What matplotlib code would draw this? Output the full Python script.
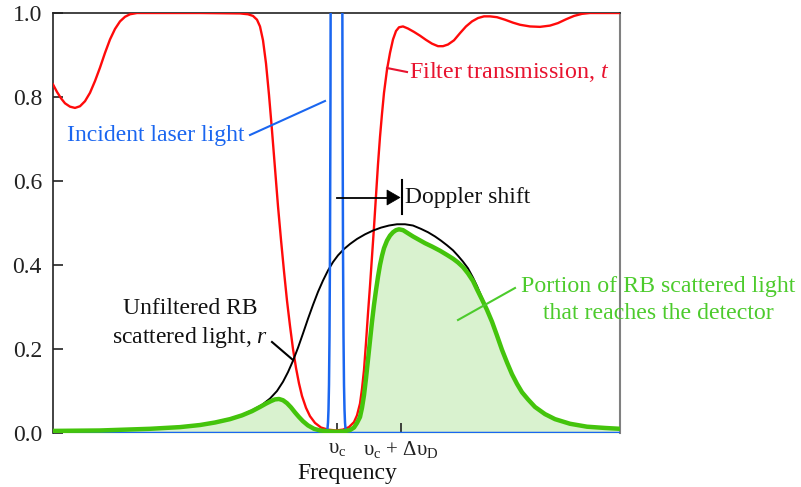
import matplotlib
matplotlib.use("Agg")
import matplotlib.pyplot as plt
from matplotlib.patches import Polygon
from matplotlib.lines import Line2D

plt.rcParams['font.family'] = ['Liberation Serif', 'DejaVu Serif']
plt.rcParams['mathtext.fontset'] = 'custom'
plt.rcParams['mathtext.rm'] = 'Liberation Serif'
plt.rcParams['mathtext.it'] = 'Liberation Serif:italic'

# ---- data: frequency offset from nu_c (arbitrary units; Doppler shift = 64) ----
doppler_shift = 64
filter_x = [-284, -280, -276, -272, -267, -262, -257, -252, -247, -242, -237, -232, -227, -222,
            -217, -212, -207, -200, -137, -97, -89, -84, -80, -77, -74, -71, -68, -65, -62, -59,
            -56, -53, -50, -47, -44, -41, -38, -35, -31, -27, -22, -16, -9, -1, 6, 12, 17, 20,
            23, 25, 27, 29, 31, 33, 35, 37, 39, 41, 43, 45, 47, 50, 53, 56, 59, 62, 66, 71, 77,
            83, 89, 95, 101, 106, 111, 117, 123, 129, 135, 141, 147, 153, 160, 168, 176, 183,
            193, 203, 213, 221, 229, 237, 245, 253, 283]
filter_t = [0.830, 0.812, 0.797, 0.785, 0.777, 0.774, 0.778, 0.790, 0.810, 0.838, 0.870, 0.905,
            0.937, 0.962, 0.980, 0.991, 0.997, 1.0, 1.0, 0.999, 0.997, 0.993, 0.984, 0.968,
            0.935, 0.88, 0.805, 0.72, 0.63, 0.54, 0.46, 0.385, 0.315, 0.255, 0.2, 0.155, 0.118,
            0.088, 0.06, 0.04, 0.024, 0.013, 0.008, 0.006, 0.008, 0.014, 0.026, 0.042, 0.07,
            0.105, 0.15, 0.215, 0.285, 0.35, 0.42, 0.49, 0.565, 0.64, 0.705, 0.76, 0.81, 0.865,
            0.905, 0.937, 0.957, 0.966, 0.968, 0.963, 0.955, 0.946, 0.936, 0.927, 0.921, 0.921,
            0.925, 0.935, 0.952, 0.968, 0.98, 0.988, 0.992, 0.992, 0.99, 0.984, 0.977, 0.972,
            0.968, 0.967, 0.970, 0.976, 0.985, 0.993, 0.998, 1.0, 1.0]

laser_x = [-284, -12.5, -10.5, -9.5, -9.0, -8.5, -8.0, -7.5, -7.0, -6.5, -6.0, -0.5,
           5.0, 5.5, 6.0, 6.5, 7.0, 7.5, 8.0, 8.5, 9.5, 11.5, 283]
laser_y = [0.0, 0.0, 0.002, 0.011, 0.025, 0.056, 0.115, 0.23, 0.44, 0.82, 1.5,
           25.0, 1.5, 0.82, 0.44, 0.23, 0.115, 0.056, 0.025, 0.011, 0.002, 0.0, 0.0]

rb_x = [-284, -237, -187, -157, -137, -122, -107, -95, -85, -75, -67, -60, -54, -49, -44, -39,
        -34, -29, -24, -19, -14, -9, -4, 1, 7, 13, 20, 28, 36, 44, 52, 60, 68, 76, 84, 91, 98,
        104, 110, 116, 121, 126, 131, 136, 140, 145, 150, 155, 160, 165, 170, 175, 180, 185,
        191, 198, 208, 218, 233, 250, 268, 283]
rb_r = [0.004, 0.006, 0.011, 0.015, 0.02, 0.026, 0.034, 0.043, 0.054, 0.067, 0.082, 0.100,
        0.122, 0.145, 0.172, 0.203, 0.237, 0.272, 0.305, 0.336, 0.363, 0.387, 0.407, 0.423,
        0.438, 0.45, 0.462, 0.473, 0.482, 0.489, 0.494, 0.497, 0.497, 0.494, 0.486, 0.478,
        0.468, 0.458, 0.447, 0.435, 0.422, 0.408, 0.392, 0.37, 0.35, 0.322, 0.293, 0.265,
        0.232, 0.198, 0.168, 0.14, 0.117, 0.097, 0.08, 0.062, 0.045, 0.033, 0.022, 0.015,
        0.012, 0.01]

det_x = [-284, -237, -187, -157, -137, -122, -107, -95, -85, -77, -71, -66, -62, -58, -54, -50,
         -46, -42, -38, -34, -29, -23, -17, -9, -1, 7, 13, 17, 20, 23, 25, 27, 29, 31, 33, 35,
         37, 39, 41, 43, 45, 47, 50, 53, 56, 59, 62, 66, 70, 76, 82, 88, 95, 103, 110, 116,
         121, 126, 131, 136, 140, 145, 150, 155, 160, 165, 170, 175, 180, 185, 191, 198, 208,
         218, 233, 250, 268, 283]
det_y = [0.005, 0.006, 0.01, 0.014, 0.019, 0.025, 0.033, 0.042, 0.052, 0.062, 0.070, 0.076,
         0.080, 0.081, 0.078, 0.071, 0.061, 0.049, 0.038, 0.028, 0.018, 0.010, 0.006, 0.004,
         0.003, 0.004, 0.007, 0.013, 0.024, 0.038, 0.06, 0.09, 0.13, 0.175, 0.22, 0.265, 0.305,
         0.34, 0.372, 0.40, 0.422, 0.44, 0.458, 0.47, 0.478, 0.483, 0.485, 0.483, 0.477,
         0.468, 0.46, 0.452, 0.444, 0.434, 0.424, 0.415, 0.406, 0.395, 0.38, 0.362, 0.342,
         0.318, 0.293, 0.265, 0.232, 0.198, 0.168, 0.14, 0.117, 0.097, 0.08, 0.062, 0.045,
         0.033, 0.022, 0.015, 0.012, 0.01]

y_ticks = [0.0, 0.2, 0.4, 0.6, 0.8, 1.0]
x_ticks = [0, doppler_shift]
x_ticklabels = [r'υ$_\mathrm{c}$', r'υ$_\mathrm{c}$ + Δυ$_\mathrm{D}$']

RED = '#ff0a0a'
RED_TXT = '#e8132f'
BLUE = '#1a66f0'
GREEN = '#44c40c'
GREEN_TXT = '#4ccb2c'
FILL = '#d9f2cf'

W, H = 801, 487
fig = plt.figure(figsize=(W / 100, H / 100), dpi=100)
ax = fig.add_axes([53 / W, 1 - 433 / H, 567 / W, 420 / H])
ax.set_xlim(-284, 283)
ax.set_ylim(0, 1.0)

ax.fill_between(det_x, 0, det_y, color=FILL, lw=0, zorder=1)
ax.plot(filter_x, filter_t, color=RED, lw=1.7, zorder=3)
ax.plot(rb_x, rb_r, color='black', lw=1.4, zorder=3)
ax.plot(laser_x, laser_y, color=BLUE, lw=1.8, zorder=4)
ax.plot(det_x, det_y, color=GREEN, lw=3.2, zorder=5, solid_capstyle='butt',
        solid_joinstyle='round')

ax.set_yticks(y_ticks)
ax.set_yticklabels([f'{v:.1f}' for v in y_ticks])
ax.set_xticks(x_ticks)
ax.set_xticklabels(x_ticklabels)
ax.tick_params(axis='y', direction='in', length=7, width=1.2, pad=8, labelsize=17,
               colors='#222222')
ax.tick_params(axis='x', direction='in', length=7, width=1.2, pad=4, labelsize=15,
               colors='#222222')
for s in ['left', 'top']:
    ax.spines[s].set_color('#222222')
    ax.spines[s].set_linewidth(1.2)
ax.spines['right'].set_color('#808080')
ax.spines['right'].set_linewidth(1.5)
ax.spines['bottom'].set_visible(False)


def P(px, py):
    return (px / W, 1 - py / H)


tf = fig.transFigure
fig.text(*P(347, 473), 'Frequency', ha='center', va='center', fontsize=17, color='#111111')

# Incident laser light
fig.text(*P(67, 136), 'Incident laser light', ha='left', va='center', fontsize=17, color=BLUE)
fig.add_artist(Line2D([250 / W, 325 / W], [1 - 135 / H, 1 - 101 / H], color=BLUE, lw=1.5,
                      transform=tf))

# Filter transmission
fig.text(*P(409, 72), 'Filter transmission, $t$', ha='left', va='center', fontsize=17.3,
         color=RED_TXT)
fig.add_artist(Line2D([387 / W, 407 / W], [1 - 68 / H, 1 - 72 / H], color=RED_TXT, lw=1.5,
                      transform=tf))

# Doppler shift arrow
fig.text(*P(405, 197), 'Doppler shift', ha='left', va='center', fontsize=17, color='#111111')
fig.add_artist(Line2D([337 / W, 388 / W], [1 - 197.5 / H, 1 - 197.5 / H], color='black', lw=1.3,
                      transform=tf))
fig.add_artist(Polygon([P(387, 190), P(387, 205), P(400, 197.5)], closed=True,
                       facecolor='black', edgecolor='black', lw=0.5, transform=tf))
fig.add_artist(Line2D([402 / W, 402 / W], [1 - 180 / H, 1 - 214 / H], color='black', lw=1.5,
                      transform=tf))

# Unfiltered RB
fig.text(*P(190, 324), 'Unfiltered RB\nscattered light, $r$', ha='center', va='center',
         fontsize=17, color='#111111', linespacing=1.38)
fig.add_artist(Line2D([272 / W, 293 / W], [1 - 342 / H, 1 - 360 / H], color='black', lw=1.5,
                      transform=tf))

# Portion to detector
fig.text(*P(658, 300), 'Portion of RB scattered light\nthat reaches the detector',
         ha='center', va='center', fontsize=17.2, color=GREEN_TXT, linespacing=1.32)
fig.add_artist(Line2D([515 / W, 458 / W], [1 - 288 / H, 1 - 320 / H], color=GREEN_TXT, lw=1.5,
                      transform=tf))

fig.savefig('out.png', dpi=100)
